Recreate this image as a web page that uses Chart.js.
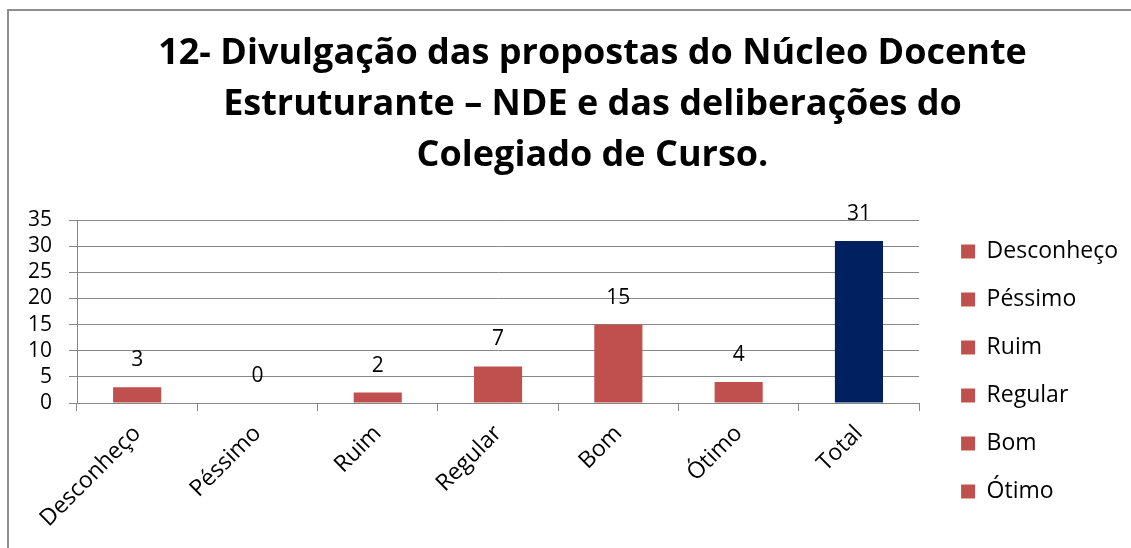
<!DOCTYPE html>
<html>
<head>
<meta charset="utf-8">
<script src="https://cdn.jsdelivr.net/npm/chart.js@4.4.0/dist/chart.umd.min.js"></script>
<style>
  html, body { margin: 0; padding: 0; background: #ffffff; overflow: hidden; width: 1131px; height: 548px; }
  #frame { position: absolute; left: 7px; top: 9px; width: 1300px; height: 700px;
           border-left: 2px solid #8e8e8e; border-top: 2px solid #8e8e8e; }
  #c { position: absolute; left: 0; top: 0; }
</style>
</head>
<body>
<div id="frame"></div>
<canvas id="c" width="1163" height="548"></canvas>
<script>
const categories = ['Desconheço', 'Péssimo', 'Ruim', 'Regular', 'Bom', 'Ótimo', 'Total'];
const values = [3, 0, 2, 7, 15, 4, 31];
const titleLines = ['12- Divulgação das propostas do Núcleo Docente', 'Estruturante – NDE e das deliberações do', 'Colegiado de Curso.'];
const yMax = 35;
const yStep = 5;

const RED = '#C0504D';
const NAVY = '#002060';
const GRID = '#888888';
const barColors = categories.map(c => c === 'Total' ? NAVY : RED);

const valueLabels = {
  id: 'valueLabels',
  afterDatasetsDraw(chart) {
    const ctx = chart.ctx;
    const meta = chart.getDatasetMeta(0);
    ctx.save();
    ctx.font = '21px "Open Sans"';
    ctx.fillStyle = '#000000';
    ctx.textAlign = 'center';
    ctx.textBaseline = 'middle';
    meta.data.forEach((bar, i) => {
      ctx.fillText(String(chart.data.datasets[0].data[i]), bar.x, bar.y - 27);
    });
    ctx.restore();
  }
};

new Chart(document.getElementById('c'), {
  type: 'bar',
  data: {
    labels: categories,
    datasets: [{
      data: values,
      backgroundColor: barColors,
      borderWidth: 0,
      barPercentage: 0.4,
      categoryPercentage: 1.0
    }]
  },
  options: {
    responsive: false,
    animation: false,
    devicePixelRatio: 1,
    layout: { padding: { left: 22, right: 0, top: 0, bottom: 20 } },
    plugins: {
      tooltip: { enabled: false },
      title: {
        display: true,
        text: titleLines,
        color: '#000000',
        font: { family: '"Open Sans"', size: 36, weight: 'bold', lineHeight: 1.417 },
        padding: { top: 28, bottom: 39 }
      },
      legend: {
        display: true,
        position: 'right',
        align: 'end',
        maxWidth: 260,
        onClick: null,
        labels: {
          boxWidth: 14,
          boxHeight: 14,
          padding: 25,
          color: '#000000',
          font: { family: '"Open Sans"', size: 23 },
          generateLabels(chart) {
            const ds = chart.data.datasets[0];
            return chart.data.labels
              .map((l, i) => ({ text: l, fillStyle: ds.backgroundColor[i], strokeStyle: ds.backgroundColor[i], lineWidth: 0, hidden: false, index: i, fontColor: '#000000' }))
              .filter(it => it.text !== 'Total');
          }
        }
      }
    },
    scales: {
      x: {
        grid: { display: true, drawOnChartArea: false, drawTicks: true, tickLength: 8, color: GRID, lineWidth: 1, offset: true },
        border: { display: true, color: GRID, width: 1 },
        ticks: { color: '#000000', font: { family: '"Open Sans"', size: 23 }, minRotation: 45, maxRotation: 45, padding: 9, autoSkip: false },
        afterFit(s) { s.height = 125; }
      },
      y: {
        min: 0, max: yMax,
        grid: { color: GRID, lineWidth: 1, drawTicks: true, tickLength: 8 },
        border: { display: true, color: GRID, width: 1 },
        ticks: { stepSize: yStep, autoSkip: false, color: '#000000', font: { family: '"Open Sans"', size: 21 }, padding: 17 },
        afterFit(s) { s.width = 55; }
      },
      gapInner: {
        type: 'linear',
        position: 'right',
        weight: 0,
        display: true,
        grid: { display: false },
        border: { display: false },
        ticks: { display: false },
        afterFit(s) { s.width = 17; }
      },
      gapOuter: {
        type: 'linear',
        position: 'right',
        weight: 3000,
        display: true,
        grid: { display: false },
        border: { display: false },
        ticks: { display: false },
        afterFit(s) { s.width = 35; }
      }
    }
  },
  plugins: [valueLabels]
});
</script>
</body>
</html>
